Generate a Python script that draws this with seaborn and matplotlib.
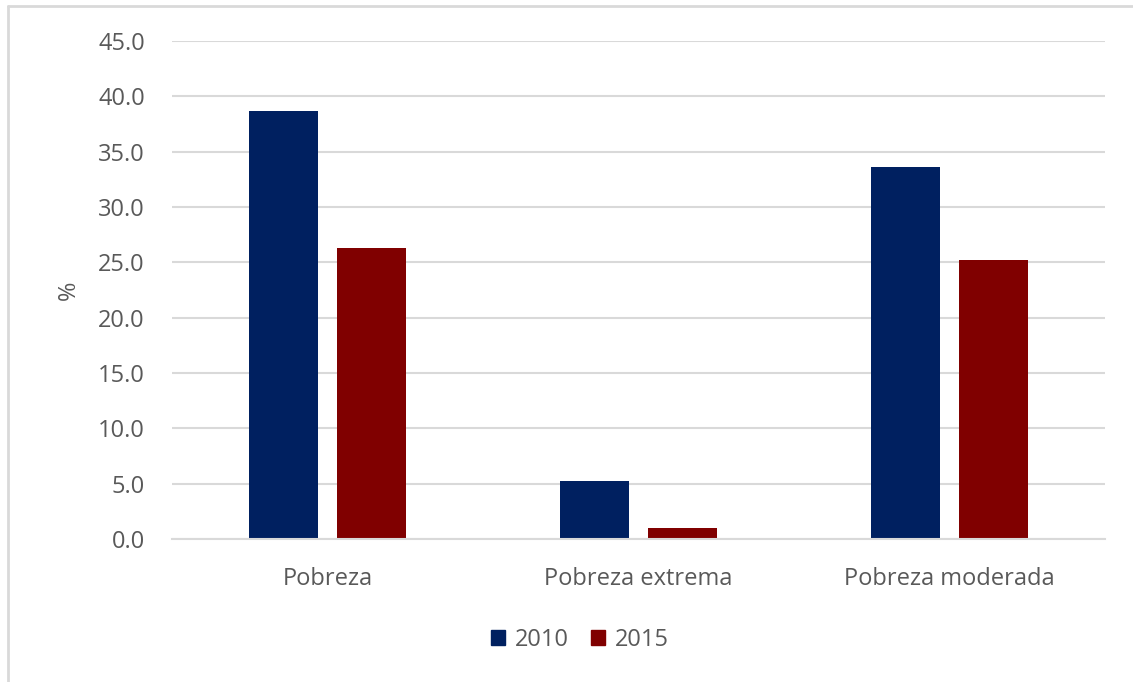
import matplotlib
matplotlib.use("Agg")
import matplotlib.pyplot as plt
import seaborn as sns
import pandas as pd
from matplotlib.patches import Patch
from matplotlib.lines import Line2D

categories = ["Pobreza", "Pobreza extrema", "Pobreza moderada"]
years = ["2010", "2015"]
values_2010 = [38.7, 5.2, 33.6]
values_2015 = [26.3, 1.0, 25.2]
yticks = [0, 5, 10, 15, 20, 25, 30, 35, 40, 45]

colors = {"2010": "#002060", "2015": "#800000"}
text_color = "#595959"
grid_color = "#d9d9d9"

df = pd.DataFrame({
    "cat": categories * 2,
    "year": [years[0]] * 3 + [years[1]] * 3,
    "val": values_2010 + values_2015,
})

sns.set_theme(style="white")
plt.rcParams["font.family"] = ["Open Sans", "DejaVu Sans"]

fs = 17

fig = plt.figure(figsize=(11.33, 6.82), dpi=100)
ax = fig.add_axes([172 / 1133, 1 - 539 / 682, (1105 - 172) / 1133, (539 - 41) / 682])

sns.barplot(data=df, x="cat", y="val", hue="year", palette=colors,
            width=0.566, gap=0.205, ax=ax, legend=False, saturation=1,
            linewidth=0)

ax.set_ylim(0, 45)
ax.set_xlim(-0.5, 2.5)
ax.set_yticks(yticks)
ax.set_yticklabels([f"{v:.1f}" for v in yticks])
ax.yaxis.grid(True, color=grid_color, linewidth=1.5)
ax.set_axisbelow(True)
for s in ["top", "right", "left"]:
    ax.spines[s].set_visible(False)
ax.spines["bottom"].set_color(grid_color)
ax.spines["bottom"].set_linewidth(1.5)
ax.tick_params(axis="both", length=0, labelsize=fs, colors=text_color)
ax.tick_params(axis="y", pad=19.5)
ax.tick_params(axis="x", pad=20.5)
ax.set_xlabel("")
ax.set_ylabel("%", fontsize=fs, color=text_color, labelpad=12)

handles = [Patch(facecolor=colors[y], edgecolor=colors[y], label=y) for y in years]
fig.legend(handles=handles, loc="center", bbox_to_anchor=(580 / 1133, 1 - 640 / 682),
           ncol=2, frameon=False, fontsize=fs, handlelength=0.6, handleheight=0.6,
           handletextpad=0.42, columnspacing=0.9, labelcolor=text_color)

# chart frame (top and left edges visible)
fig.add_artist(Line2D([8 / 1133, 8 / 1133], [1 - 6 / 682, 0], transform=fig.transFigure,
                      color="#d9d9d9", linewidth=2))
fig.add_artist(Line2D([8 / 1133, 1], [1 - 6 / 682, 1 - 6 / 682], transform=fig.transFigure,
                      color="#d9d9d9", linewidth=2))

fig.savefig("out.png", dpi=100, facecolor="white")
